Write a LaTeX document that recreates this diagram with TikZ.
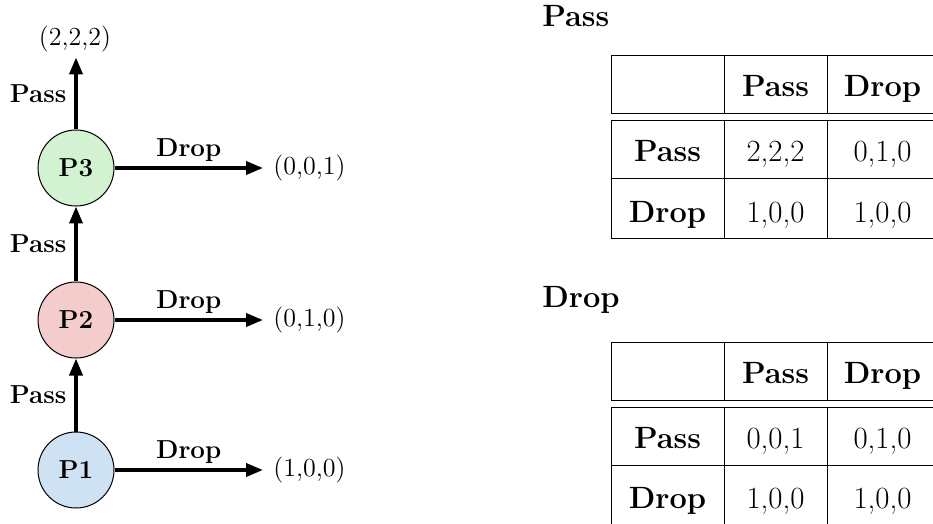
\documentclass[tikz,border=0pt]{standalone}
\usetikzlibrary{arrows.meta}
\definecolor{pone}{HTML}{CFE2F3}
\definecolor{ptwo}{HTML}{F4CCCC}
\definecolor{pthree}{HTML}{D2F2D2}
\newcommand\dfont{\fontsize{13}{15.6}\selectfont}
\newcommand\tfont{\fontsize{15.4}{18.5}\selectfont}
\newcommand\paytable[9]{%
  % #1 prefix, #2 y offset, #3..#6 cells, #7 title, #8 draw bottom rule (1/0), #9 title baseline
  \begin{scope}[shift={(0,#2)}]
    \node[ttitle] (#1title) at (542,#9) {#7};
    \draw[tbl] (611,56) -- (933,56);
    \draw[tbl] (611,114) -- (933,114);
    \draw[tbl] (611,121) -- (933,121);
    \draw[tbl] (611,179) -- (933,179);
    \ifnum#8=1 \draw[tbl] (611,239) -- (933,239);\fi
    \draw[tbl] (611,56) -- (611,114);
    \draw[tbl] (724,56) -- (724,114);
    \draw[tbl] (827,56) -- (827,114);
    \draw[tbl] (611,121) -- (611,239);
    \draw[tbl] (724,121) -- (724,239);
    \draw[tbl] (827,121) -- (827,239);
    \node[tcell, font=\tfont\bfseries] (#1hp) at (775.5,97) {Pass};
    \node[tcell, font=\tfont\bfseries] (#1hd) at (882.5,97) {Drop};
    \node[tcell, font=\tfont\bfseries] (#1rp) at (667.5,162) {Pass};
    \node[tcell, font=\tfont\bfseries] (#1rd) at (667.5,222) {Drop};
    \node[tcell] (#1pp) at (775.5,162) {#3};
    \node[tcell] (#1pd) at (882.5,162) {#4};
    \node[tcell] (#1dp) at (775.5,222) {#5};
    \node[tcell] (#1dd) at (882.5,222) {#6};
  \end{scope}}
\begin{document}
\begin{tikzpicture}[x=0.5pt,y=-0.5pt,
  every node/.style={font=\dfont},
  player/.style={circle, draw=black, line width=0.5pt, minimum size=38pt,
    inner sep=0pt, font=\dfont\bfseries},
  arr/.style={line width=1.8pt, -{Triangle[length=8.5pt,width=6.5pt]}},
  outcome/.style={inner xsep=5pt, inner ysep=2.5pt},
  vlbl/.style={left=0.6pt, font=\dfont\bfseries},
  hlbl/.style={above, inner sep=2.5pt, font=\dfont\bfseries},
  tbl/.style={line width=0.5pt},
  tcell/.style={anchor=base, inner sep=0pt, font=\tfont},
  ttitle/.style={anchor=base west, inner sep=0pt, font=\tfont\bfseries}]
\useasboundingbox (0,0) rectangle (933,524);

% players
\node[player, fill=pone]   (p1) at (76,470) {P1};
\node[player, fill=ptwo]   (p2) at (76,320) {P2};
\node[player, fill=pthree] (p3) at (76,168) {P3};

% outcomes
\node[outcome, anchor=west] (o1) at (263,470) {(1,0,0)};
\node[outcome, anchor=west] (o2) at (263,320) {(0,1,0)};
\node[outcome, anchor=west] (o3) at (263,168) {(0,0,1)};
\node[outcome] (o4) at (75,39) {(2,2,2)};

% connectors
\draw[arr] (p1) -- node[vlbl] {Pass} (p2);
\draw[arr] (p2) -- node[vlbl] {Pass} (p3);
\draw[arr] (p3.north) -- node[vlbl] {Pass} (p3.north |- o4.south);
\draw[arr] (p1) -- node[hlbl] {Drop} (o1);
\draw[arr] (p2) -- node[hlbl] {Drop} (o2);
\draw[arr] (p3) -- node[hlbl] {Drop} (o3);

% tables
\paytable{a}{0}{2,2,2}{0,1,0}{1,0,0}{1,0,0}{Pass}{1}{26.5}
\paytable{b}{286}{0,0,1}{0,1,0}{1,0,0}{1,0,0}{Drop}{0}{21.5}
\end{tikzpicture}
\end{document}
